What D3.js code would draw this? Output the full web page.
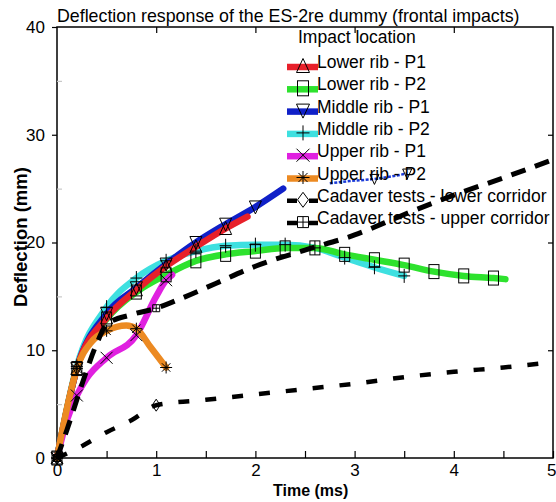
<!DOCTYPE html>
<html>
<head>
<meta charset="utf-8">
<script src="https://cdn.jsdelivr.net/npm/d3@7"></script>
<style>
  body { margin: 0; background: #fff; }
  text { font-family: "Liberation Sans", Arial, sans-serif; fill: #000; }
</style>
</head>
<body>
<svg id="chart"></svg>
<script>
// deflection (mm) vs time (ms)
const lowerP1 = [[0, 0], [0.2, 8.3], [0.5, 13], [0.8, 15.6], [1.1, 17.8], [1.4, 19.6], [1.7, 21.3], [1.92, 22.4]]
const lowerP2 = [[0, 0], [0.2, 8.3], [0.5, 12.9], [0.8, 15.4], [1.1, 17], [1.4, 18.3], [1.7, 18.9], [2.0, 19.2], [2.3, 19.5], [2.6, 19.5], [2.9, 18.9], [3.2, 18.4], [3.5, 17.9], [3.8, 17.3], [4.1, 16.9], [4.4, 16.7], [4.52, 16.6]]
const middleP1 = [[0, 0], [0.2, 8.3], [0.5, 13.4], [0.8, 15.8], [1.1, 18], [1.4, 20], [1.7, 21.7], [2.0, 23.3], [2.28, 25]]
const middleP1Tail = [[2.75, 25.5], [2.95, 25.7], [3.2, 25.9], [3.53, 26.4]]
const middleP2 = [[0, 0], [0.2, 8.5], [0.5, 14], [0.8, 16.7], [1.1, 18.3], [1.4, 19.2], [1.7, 19.7], [2.0, 19.8], [2.3, 19.8], [2.6, 19.5], [2.9, 18.6], [3.2, 17.7], [3.5, 16.9]]
const upperP1 = [[0, 0], [0.1, 3.5], [0.2, 5.8], [0.3, 7.4], [0.5, 9.3], [0.8, 11.4], [1.0, 15], [1.1, 16.5], [1.16, 17]]
const upperP2 = [[0, 0], [0.1, 4.6], [0.2, 8.3], [0.35, 10.8], [0.5, 11.8], [0.7, 12.3], [0.8, 12], [0.95, 10.2], [1.1, 8.4]]
const cadaverLower = [[0, 0], [0.25, 1.1], [0.5, 2.4], [0.75, 3.5], [1.0, 4.9], [1.5, 5.4], [2.0, 5.9], [2.5, 6.4], [3.0, 6.9], [3.5, 7.5], [4.0, 8.0], [4.5, 8.4], [5.0, 8.9]]
const cadaverUpper = [[0, 0], [0.1, 2.6], [0.25, 6.8], [0.4, 10.6], [0.5, 12.4], [0.75, 13.3], [1.0, 13.9], [1.25, 14.8], [1.6, 16.2], [2.0, 17.8], [2.5, 19.3], [3.0, 20.7], [3.5, 22.6], [4.0, 24.4], [4.5, 26.0], [5.0, 27.7]]
const cadaverMarkTimes = [0, 1]

const legendLabels = ["Lower rib - P1", "Lower rib - P2", "Middle rib - P1", "Middle rib - P2", "Upper rib - P1", "Upper rib - P2", "Cadaver tests - lower corridor", "Cadaver tests - upper corridor"]
const xTicks = [0, 1, 2, 3, 4, 5]
const yTicks = [0, 10, 20, 30, 40]
const yMinor = [5, 15, 25, 35]

const width = 556, height = 502
const svg = d3.select("#chart").attr("width", width).attr("height", height)

const x = d3.scaleLinear().domain([0, 5]).range([57, 553])
const y = d3.scaleLinear().domain([0, 40]).range([458, 27])

const series = [
  { data: middleP2, color: "#3ee0e0", marker: "plus" },
  { data: lowerP2, color: "#2ee22e", marker: "square" },
  { data: middleP1, color: "#1020c8", marker: "itri" },
  { data: lowerP1, color: "#e8202a", marker: "tri" },
  { data: upperP1, color: "#e020e0", marker: "cross" },
  { data: upperP2, color: "#ec8a22", marker: "star" },
]

const onGrid = (t) => t === 0 || Math.abs((t - 0.2) / 0.3 - Math.round((t - 0.2) / 0.3)) < 1e-6

const drawMarker = (g, type, cx, cy, s) => {
  const h = s / 2
  const m = g.append("g").attr("transform", `translate(${cx},${cy})`)
    .attr("fill", "none").attr("stroke", "#000").attr("stroke-width", 1)
  if (type === "tri") m.append("path").attr("d", `M0,${-h - 1}L${h},${h}L${-h},${h}Z`)
  if (type === "itri") m.append("path").attr("d", `M0,${h + 1}L${h},${-h}L${-h},${-h}Z`)
  if (type === "square") m.append("rect").attr("x", -h + 1).attr("y", -h - 1).attr("width", s - 2).attr("height", s + 2)
  if (type === "plus") m.append("path").attr("d", `M${-h},0H${h}M0,${-h - 1}V${h + 1}`)
  if (type === "cross") m.append("path").attr("d", `M${-h},${-h}L${h},${h}M${-h},${h}L${h},${-h}`)
  if (type === "star") m.append("path").attr("d", `M${-h},0H${h}M0,${-h}V${h}M${-h * 0.7},${-h * 0.7}L${h * 0.7},${h * 0.7}M${-h * 0.7},${h * 0.7}L${h * 0.7},${-h * 0.7}`)
  if (type === "diamond") m.append("path").attr("d", `M0,${-h - 1}L${h - 1},0L0,${h + 1}L${-h + 1},0Z`)
  if (type === "boxplus") m.append("path").attr("d", `M${-h + 1},${-h + 1}H${h - 1}V${h - 1}H${-h + 1}ZM${-h + 1},0H${h - 1}M0,${-h + 1}V${h - 1}`)
}

const line = d3.line().x((d) => x(d[0])).y((d) => y(d[1])).curve(d3.curveMonotoneX)

// frame
svg.append("rect").attr("x", x(0)).attr("y", y(40)).attr("width", x(5) - x(0)).attr("height", y(0) - y(40))
  .attr("fill", "none").attr("stroke", "#000").attr("stroke-width", 1.5)

// axes
const axBottom = svg.append("g").attr("transform", `translate(0,${y(0)})`)
  .call(d3.axisBottom(x).tickValues(d3.range(0, 5.01, 0.5)).tickSize(-7).tickPadding(6)
    .tickFormat((d) => (xTicks.includes(d) ? d : "")))
const axTop = svg.append("g").attr("transform", `translate(0,${y(40)})`)
  .call(d3.axisTop(x).tickValues([1, 2, 3, 4]).tickSize(-6).tickFormat(""))
const axLeft = svg.append("g").attr("transform", `translate(${x(0)},0)`)
  .call(d3.axisLeft(y).tickValues(yTicks).tickSize(5).tickPadding(7))
const axLeftMinor = svg.append("g").attr("transform", `translate(${x(0)},0)`)
  .call(d3.axisLeft(y).tickValues(yMinor).tickSize(-5).tickFormat(""))
const axRight = svg.append("g").attr("transform", `translate(${x(5)},0)`)
  .call(d3.axisRight(y).tickValues([10, 20, 30]).tickSize(-5).tickFormat(""))

;[axBottom, axTop, axLeft, axLeftMinor, axRight].forEach((a) => {
  a.select(".domain").remove()
  a.selectAll(".tick line").attr("stroke", "#000").attr("stroke-width", 1.2)
  a.selectAll("text").style("font-size", "17px").style("font-family", '"Liberation Sans", Arial, sans-serif')
})
axLeftMinor.selectAll(".tick line").attr("stroke", "#c8c8c8")
// last x label sits at the window edge, keep it inside
axBottom.selectAll(".tick text").filter((d) => d === 5).attr("text-anchor", "end").attr("x", 3)

// colored series
series.forEach((s) => {
  svg.append("path").attr("d", line(s.data)).attr("fill", "none")
    .attr("stroke", s.color).attr("stroke-width", 6.5).attr("stroke-linecap", "round").attr("stroke-linejoin", "round")
})
svg.append("path").attr("d", line(middleP1Tail)).attr("fill", "none")
  .attr("stroke", "#1a3ad8").attr("stroke-width", 2.5).attr("stroke-dasharray", "3,1.5")

series.forEach((s) => {
  const g = svg.append("g")
  s.data.filter((d) => onGrid(d[0])).forEach((d) => drawMarker(g, s.marker, x(d[0]), y(d[1]), 12))
})
middleP1Tail.filter((d) => d[0] > 3).forEach((d) => drawMarker(svg, "itri", x(d[0]), y(d[1]), 9))

// cadaver corridors
svg.append("path").attr("d", line(cadaverUpper)).attr("fill", "none")
  .attr("stroke", "#000").attr("stroke-width", 5).attr("stroke-dasharray", "15,10")
svg.append("path").attr("d", line(cadaverLower)).attr("fill", "none")
  .attr("stroke", "#000").attr("stroke-width", 4.5).attr("stroke-dasharray", "11,16")
cadaverLower.filter((d) => cadaverMarkTimes.includes(d[0])).forEach((d) => drawMarker(svg, "diamond", x(d[0]), y(d[1]), 10))
cadaverUpper.filter((d) => cadaverMarkTimes.includes(d[0])).forEach((d) => drawMarker(svg, "boxplus", x(d[0]), y(d[1]), 9))

// titles
svg.append("text").attr("x", 57).attr("y", 22).style("font-size", "17.8px")
  .text("Deflection response of the ES-2re dummy (frontal impacts)")
svg.append("text").attr("x", 273).attr("y", 496).style("font-size", "16px").style("font-weight", "bold").text("Time (ms)")
svg.append("text").attr("transform", "translate(27,237) rotate(-90)").attr("text-anchor", "middle")
  .style("font-size", "18.5px").style("font-weight", "bold").text("Deflection (mm)")

// legend
const legend = svg.append("g")
legend.append("text").attr("x", 298).attr("y", 37).attr("dy", "0.35em").style("font-size", "17.5px").text("Impact location")
const legendItems = [
  { color: "#e8202a", marker: "tri" },
  { color: "#2ee22e", marker: "square" },
  { color: "#1020c8", marker: "itri" },
  { color: "#3ee0e0", marker: "plus" },
  { color: "#e020e0", marker: "cross" },
  { color: "#ec8a22", marker: "star" },
  { color: "#000", marker: "diamond", dash: "10,12" },
  { color: "#000", marker: "boxplus", dash: "10,12" },
]
legendItems.forEach((it, i) => {
  const ty = 62 + i * 22.3
  const ly = ty + 5
  legend.append("line").attr("x1", 287).attr("x2", 318).attr("y1", ly).attr("y2", ly)
    .attr("stroke", it.color).attr("stroke-width", it.dash ? 4.5 : 6.5).attr("stroke-dasharray", it.dash || null)
  drawMarker(legend, it.marker, 303, ly - 1, 13)
  legend.append("text").attr("x", 317).attr("y", ty).attr("dy", "0.35em").style("font-size", "17.5px").text(legendLabels[i])
})
</script>
</body>
</html>
